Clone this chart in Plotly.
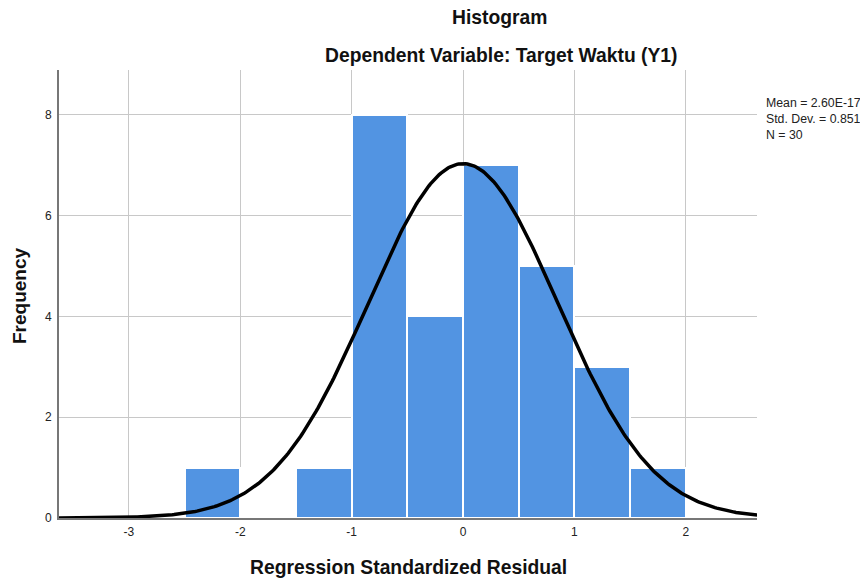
import numpy as np
import plotly.graph_objects as go

# histogram bins (width 0.5) and counts
bin_left = [-2.5, -2.0, -1.5, -1.0, -0.5, 0.0, 0.5, 1.0, 1.5]
counts = [1, 0, 1, 8, 4, 7, 5, 3, 1]
bin_width = 0.5

# summary stats shown on the chart
mean = 2.60e-17
std_dev = 0.851
n_obs = 30

x_ticks = [-3, -2, -1, 0, 1, 2]
x_tick_text = ['-3', '-2', '-1', '0', '1', '2']
y_ticks = [0, 2, 4, 6, 8]

FONT = "Liberation Sans, Arial, sans-serif"

# page body adds an 8px offset, so compensate in the margins
OFF = 8
W, H = 868, 581
PW, PH = 698, 448
L, T = 59 - OFF, 70 - OFF
R, B = W - L - PW, H - T - PH

centers = [b + bin_width / 2 for b in bin_left]

# normal curve scaled to the histogram
xs = np.linspace(-3.65, 2.64, 400)
ys = n_obs * bin_width * np.exp(-0.5 * ((xs - mean) / std_dev) ** 2) / (std_dev * np.sqrt(2 * np.pi))

fig = go.Figure()

fig.add_trace(go.Bar(
    x=centers,
    y=counts,
    width=bin_width,
    marker=dict(color='#5294e2', line=dict(color='white', width=2)),
    showlegend=False,
))

fig.add_trace(go.Scatter(
    x=xs,
    y=ys,
    mode='lines',
    line=dict(color='black', width=3.5),
    showlegend=False,
))

fig.update_layout(
    width=W,
    height=H,
    margin=dict(l=L, r=R, t=T, b=B),
    plot_bgcolor='white',
    paper_bgcolor='white',
    font=dict(family=FONT, size=12, color='#222'),
    bargap=0,
)

fig.update_xaxes(
    range=[-3.627, 2.639],
    tickvals=x_ticks,
    ticktext=x_tick_text,
    showgrid=True,
    gridcolor='#c8c8c8',
    gridwidth=1,
    showline=True,
    linecolor='#777',
    linewidth=2,
    zeroline=False,
    ticks='',
    ticklabelstandoff=2,
    automargin=False,
    tickfont=dict(size=12, color='#222'),
)

fig.update_yaxes(
    range=[0, 8.89],
    tickvals=y_ticks,
    showgrid=True,
    gridcolor='#c8c8c8',
    gridwidth=1,
    showline=True,
    linecolor='#777',
    linewidth=2,
    zeroline=False,
    ticks='',
    ticklabelstandoff=3,
    automargin=False,
    tickfont=dict(size=12, color='#222'),
)


# screen pixel -> paper fraction
def px(x):
    return (x - OFF - L) / PW


def py(y):
    return (H - B - (y - OFF)) / PH


fig.add_annotation(
    xref='paper', yref='paper', x=px(500), y=py(18),
    text='<b>Histogram</b>', showarrow=False,
    font=dict(size=19.3, color='#111'),
    xanchor='center', yanchor='middle',
)
fig.add_annotation(
    xref='paper', yref='paper', x=px(501), y=py(55),
    text='<b>Dependent Variable: Target Waktu (Y1)</b>', showarrow=False,
    font=dict(size=19.3, color='#111'),
    xanchor='center', yanchor='middle',
)
fig.add_annotation(
    xref='paper', yref='paper', x=px(408), y=py(567),
    text='<b>Regression Standardized Residual</b>', showarrow=False,
    font=dict(size=19.3, color='#111'),
    xanchor='center', yanchor='middle',
)
fig.add_annotation(
    xref='paper', yref='paper', x=px(19), y=py(296),
    text='<b>Frequency</b>', showarrow=False, textangle=-90,
    font=dict(size=19, color='#111'),
    xanchor='center', yanchor='middle',
)
fig.add_annotation(
    xref='paper', yref='paper', x=px(764), y=py(94),
    text=f'Mean = 2.60E-17<br>Std. Dev. = {std_dev}<br>N = {n_obs}',
    showarrow=False, align='left',
    font=dict(size=12.3, color='#222'),
    xanchor='left', yanchor='top',
)

fig.write_html("out.html")
